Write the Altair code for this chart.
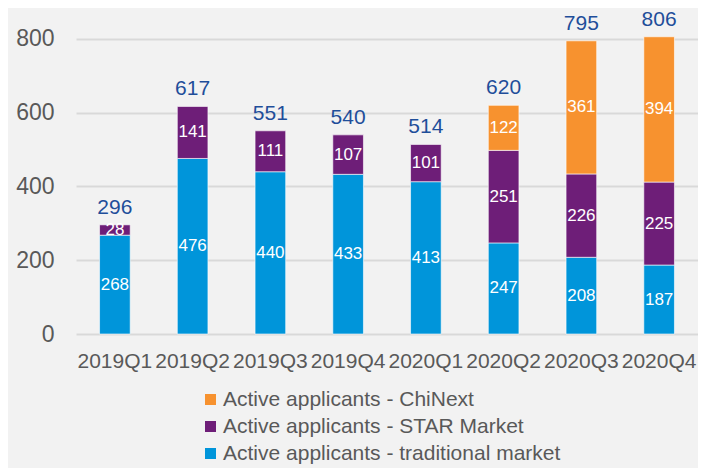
import altair as alt
import pandas as pd

quarters = ["2019Q1", "2019Q2", "2019Q3", "2019Q4", "2020Q1", "2020Q2", "2020Q3", "2020Q4"]
traditional = [268, 476, 440, 433, 413, 247, 208, 187]
star = [28, 141, 111, 107, 101, 251, 226, 225]
chinext = [0, 0, 0, 0, 0, 122, 361, 394]
totals = [296, 617, 551, 540, 514, 620, 795, 806]

s_trad = "Active applicants - traditional market"
s_star = "Active applicants - STAR Market"
s_chi = "Active applicants - ChiNext"

rows = []
for i, q in enumerate(quarters):
    for name, vals, o in [(s_trad, traditional, 0), (s_star, star, 1), (s_chi, chinext, 2)]:
        if vals[i] > 0:
            rows.append({"quarter": q, "series": name, "value": vals[i], "ord": o})
df = pd.DataFrame(rows)
tot_df = pd.DataFrame({"quarter": quarters, "total": totals})

FONT = "Liberation Sans"
x_enc = alt.X("quarter:N", sort=quarters, title=None,
              scale=alt.Scale(paddingInner=0.606, paddingOuter=0.303),
              axis=alt.Axis(labelFontSize=21, labelColor="#595959", ticks=False,
                            domain=False, labelPadding=16, labelAngle=0, grid=False,
                            labelFont=FONT))
y_scale = alt.Scale(domain=[0, 884], nice=False)

base = alt.Chart(df).transform_stack(
    stack="value", groupby=["quarter"], as_=["y0", "y1"],
    sort=[alt.SortField("ord", order="ascending")]
).transform_calculate(mid="(datum.y0 + datum.y1) / 2")

bars = base.mark_bar(stroke="#ffffff", strokeOpacity=0.6, strokeWidth=1).encode(
    x=x_enc,
    y=alt.Y("y0:Q", scale=y_scale, title=None,
            axis=alt.Axis(values=[0, 200, 400, 600, 800], labelFontSize=23,
                          labelColor="#595959", ticks=False, domain=False,
                          labelPadding=22, gridColor="#d9d9d9", gridWidth=2,
                          labelFont=FONT)),
    y2="y1:Q",
    color=alt.Color("series:N",
                    scale=alt.Scale(domain=[s_chi, s_star, s_trad],
                                    range=["#F7922F", "#6E1E78", "#0095DA"]),
                    legend=alt.Legend(title=None, orient="none", legendX=124, legendY=381,
                                      direction="vertical", symbolType="square",
                                      symbolSize=121, symbolStrokeWidth=0,
                                      labelFontSize=21, labelColor="#595959",
                                      labelFont=FONT, rowPadding=5, labelOffset=2,
                                      labelLimit=500)),
)

seg_text = base.mark_text(color="white", fontSize=17, baseline="middle", font=FONT).encode(
    x=alt.X("quarter:N", sort=quarters),
    y=alt.Y("mid:Q", scale=y_scale),
    text="value:Q",
)

tot_text = alt.Chart(tot_df).mark_text(color="#1F4E9A", fontSize=21, baseline="alphabetic",
                                        dy=-11, font=FONT).encode(
    x=alt.X("quarter:N", sort=quarters),
    y=alt.Y("total:Q", scale=y_scale),
    text="total:Q",
)

chart = alt.layer(bars, seg_text, tot_text).properties(
    width=622, height=326,
    autosize=alt.AutoSizeParams(type="none"),
    padding={"left": 68, "right": 0, "top": 0, "bottom": 134},
    background="#f2f2f2",
).configure_view(stroke=None)

chart.save("out.html", embed_options={"renderer": "svg", "actions": False})
